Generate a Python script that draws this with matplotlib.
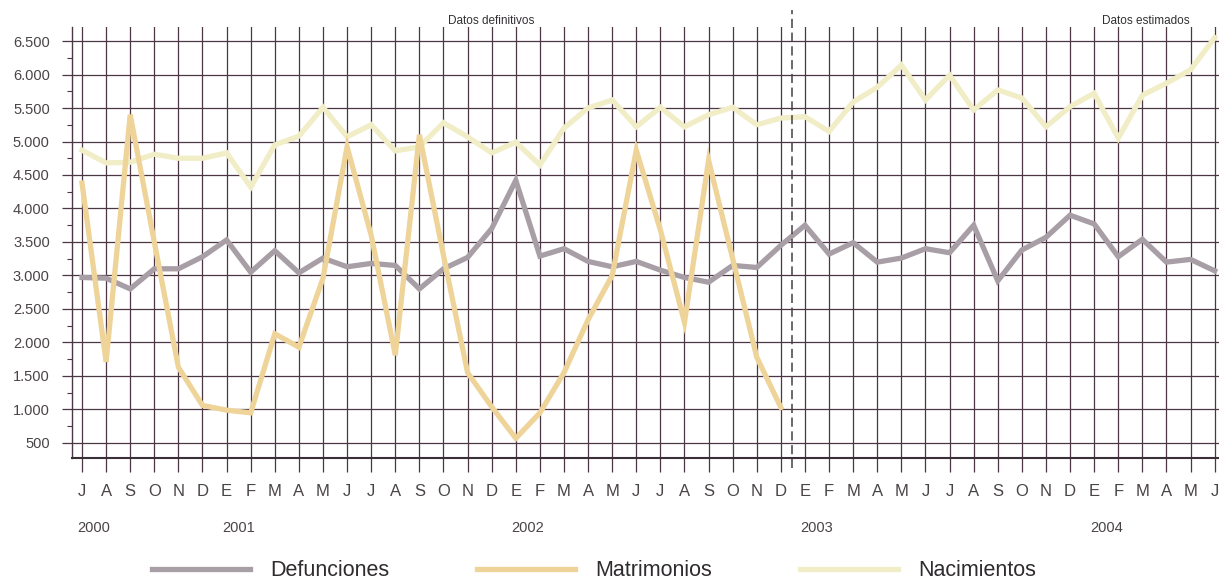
"""Monthly births, deaths and marriages, July 2000 - June 2004."""

import matplotlib

matplotlib.use("Agg")
import matplotlib.pyplot as plt
import matplotlib.transforms as mtransforms

# month initials (Spanish), July 2000 .. June 2004
months = (["J", "A", "S", "O", "N", "D"]
          + ["E", "F", "M", "A", "M", "J", "J", "A", "S", "O", "N", "D"] * 3
          + ["E", "F", "M", "A", "M", "J"])
years = ["2000", "2001", "2002", "2003", "2004"]

defunciones = [2970, 2960, 2800, 3100, 3100, 3280, 3530, 3050, 3370, 3040,
               3260, 3130, 3180, 3150, 2800, 3100, 3270, 3700, 4420, 3290,
               3400, 3210, 3130, 3210, 3080, 2970, 2900, 3150, 3120, 3450,
               3750, 3320, 3490, 3200, 3260, 3400, 3340, 3750, 2920, 3380,
               3570, 3900, 3770, 3280, 3540, 3200, 3240, 3070]
nacimientos = [4870, 4680, 4690, 4810, 4750, 4750, 4830, 4320, 4950, 5080,
               5510, 5070, 5250, 4860, 4920, 5280, 5070, 4830, 4990, 4650,
               5200, 5500, 5620, 5220, 5510, 5220, 5400, 5510, 5250, 5350,
               5370, 5150, 5590, 5810, 6140, 5620, 5990, 5470, 5770, 5650,
               5220, 5520, 5720, 5050, 5690, 5870, 6070, 6550]
# marriages only known up to December 2002
matrimonios = [4380, 1710, 5400, 3500, 1630, 1060, 990, 950, 2130, 1930,
               2960, 4920, 3600, 1810, 5100, 3300, 1550, 1040, 570, 950,
               1550, 2340, 3000, 4870, 3680, 2300, 4720, 3250, 1780, 1030]

y_ticks = list(range(500, 7000, 500))

plt.rcParams["font.family"] = ["Liberation Sans", "DejaVu Sans"]

grid_col = "#4c3644"
text_col = "#4a4446"

fig = plt.figure(figsize=(12.19, 5.82), dpi=100)
ax = fig.add_axes([72 / 1219, 1 - 458 / 582, 1 - 72 / 1219, 431 / 582])

x_all = list(range(len(months)))
l_def, = ax.plot(x_all, defunciones, color="#a89ea5", lw=3.8,
                 solid_joinstyle="miter", zorder=3)
l_nac, = ax.plot(x_all, nacimientos, color="#f1edc6", lw=3.8,
                 solid_joinstyle="miter", zorder=3)
l_mat, = ax.plot(range(len(matrimonios)), matrimonios, color="#efd49a", lw=3.8,
                 solid_joinstyle="miter", zorder=4)

ax.set_xlim(-0.415, 47.18)
ax.set_ylim(276, 6709)

ax.set_xticks(x_all)
ax.set_xticklabels(months)
ax.set_yticks(y_ticks)
ax.set_yticklabels([f"{v:,}".replace(",", ".") for v in y_ticks])
ax.set_yticks([v + 250 for v in y_ticks[:-1]], minor=True)

ax.grid(True, which="major", color=grid_col, lw=0.9, zorder=1)
ax.set_axisbelow(True)

ax.tick_params(axis="x", which="major", length=10, width=0.9, color=grid_col,
               pad=8.5, labelsize=12, labelcolor=text_col)
ax.tick_params(axis="y", which="major", length=7, width=0.9, color=grid_col,
               pad=9, labelsize=10.5, labelcolor=text_col)
ax.tick_params(axis="y", which="minor", length=3.6, width=0.8, color=grid_col)

for side in ("top", "right"):
    ax.spines[side].set_visible(False)
ax.spines["left"].set_color(grid_col)
ax.spines["left"].set_linewidth(1.0)
ax.spines["bottom"].set_color("#3a2f36")
ax.spines["bottom"].set_linewidth(1.5)

# boundary between final and estimated data
ax.axvline(29.45, ymin=-0.023, ymax=1.04, color="#444044", lw=1.1,
           ls=(0, (6, 3)), clip_on=False, zorder=5)

trans = mtransforms.blended_transform_factory(ax.transData, ax.transAxes)
year_starts = [0] + [i for i, m in enumerate(months) if m == "E"]
for start, year in zip(year_starts, years):
    ax.text(start + 0.5, -0.162, year, transform=trans, ha="center",
            va="center", fontsize=10.5, color=text_col)

ax.text(17, 1.0, "Datos definitivos", transform=trans, ha="center",
        va="bottom", fontsize=8.5, color="#333033", zorder=6)
ax.text(44.15, 1.0, "Datos estimados", transform=trans, ha="center",
        va="bottom", fontsize=8.5, color="#333033", zorder=6)

fig.legend([l_def, l_mat, l_nac], ["Defunciones", "Matrimonios", "Nacimientos"],
           loc="center", bbox_to_anchor=(594 / 1219, 1 - 571 / 582), ncol=3,
           frameon=False, fontsize=15.5, handlelength=4.55, handletextpad=0.93,
           columnspacing=4.1, borderpad=0, borderaxespad=0, labelcolor="#2f2b2e")

fig.savefig("out.png", dpi=100)
